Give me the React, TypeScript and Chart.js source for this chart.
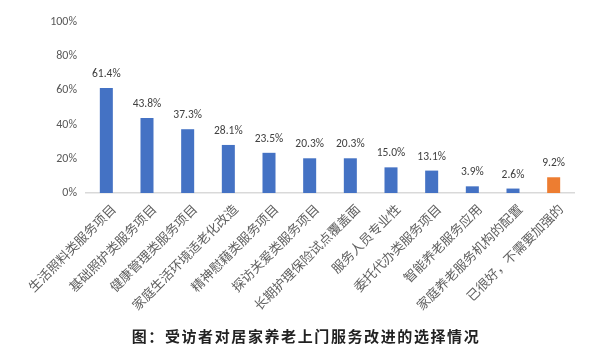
import React, { useEffect, useRef } from "react";
import { Chart, registerables } from "chart.js";

Chart.register(...registerables);

const categories = [
  "生活照料类服务项目",
  "基础照护类服务项目",
  "健康管理类服务项目",
  "家庭生活环境适老化改造",
  "精神慰藉类服务项目",
  "探访关爱类服务项目",
  "长期护理保险试点覆盖面",
  "服务人员专业性",
  "委托代办类服务项目",
  "智能养老服务应用",
  "家庭养老服务机构的配置",
  "已很好，不需要加强的",
];

const values = [61.4, 43.8, 37.3, 28.1, 23.5, 20.3, 20.3, 15.0, 13.1, 3.9, 2.6, 9.2];

const yTicks = [0, 20, 40, 60, 80, 100];

const chartTitle = "图：受访者对居家养老上门服务改进的选择情况";

const BLUE = "#4472C4";
const ORANGE = "#ED7D31";

const valueLabelPlugin = {
  id: "valueLabels",
  afterDatasetsDraw(chart: any) {
    const ctx = chart.ctx;
    const meta = chart.getDatasetMeta(0);
    ctx.save();
    ctx.font = "11.5px Carlito, 'Liberation Sans Narrow', Lato, sans-serif";
    ctx.fillStyle = "#404040";
    ctx.textAlign = "center";
    ctx.textBaseline = "alphabetic";
    meta.data.forEach((bar: any, i: number) => {
      ctx.fillText(values[i].toFixed(1) + "%", bar.x, bar.y - 11);
    });
    ctx.restore();
  },
};

export default function App() {
  const canvasRef = useRef<HTMLCanvasElement | null>(null);

  useEffect(() => {
    document.body.style.margin = "0";
    const canvas = canvasRef.current;
    if (!canvas) return;
    const chart = new Chart(canvas, {
      type: "bar",
      data: {
        labels: categories,
        datasets: [
          {
            data: values,
            backgroundColor: values.map((_, i) => (i === values.length - 1 ? ORANGE : BLUE)),
            barPercentage: 0.8,
            categoryPercentage: 0.4,
          },
        ],
      },
      options: {
        animation: false,
        responsive: false,
        maintainAspectRatio: false,
        layout: { padding: { top: 22, right: 26, left: 0, bottom: 0 } },
        plugins: {
          legend: { display: false },
          tooltip: { enabled: false },
          title: { display: false },
        },
        scales: {
          x: {
            grid: { color: "rgba(0,0,0,0)", drawTicks: false },
            border: { display: true, color: "#D9D9D9", width: 1.5 },
            ticks: {
              autoSkip: false,
              minRotation: 45,
              maxRotation: 45,
              padding: 8,
              labelOffset: 7,
              color: "#606060",
              font: { family: "'Noto Sans CJK SC', sans-serif", size: 13 },
            },
            afterFit(scale: any) {
              scale.height = 165;
            },
          },
          y: {
            min: 0,
            max: 100,
            afterBuildTicks(scale: any) {
              scale.ticks = yTicks.map((v) => ({ value: v }));
            },
            grid: { display: false, drawTicks: false },
            border: { display: false },
            ticks: {
              padding: 9,
              color: "#595959",
              font: { family: "Carlito, 'Liberation Sans Narrow', Lato, sans-serif", size: 12 },
              callback: (v: any) => v + "%",
            },
            afterFit(scale: any) {
              scale.width = 86;
            },
          },
        },
      },
      plugins: [valueLabelPlugin],
    });
    return () => chart.destroy();
  }, []);

  return (
    <div style={{ position: "absolute", left: 0, top: 0, width: 600, height: 358, background: "#fff" }}>
      <canvas ref={canvasRef} width={600} height={358} style={{ display: "block" }} />
      <div
        style={{
          position: "absolute",
          left: 0,
          width: 612,
          top: 326,
          textAlign: "center",
          fontFamily: "'Noto Sans CJK SC', sans-serif",
          fontWeight: 700,
          fontSize: 15,
          letterSpacing: 1.6,
          color: "#222",
          lineHeight: "20px",
        }}
      >
        {chartTitle}
      </div>
    </div>
  );
}
